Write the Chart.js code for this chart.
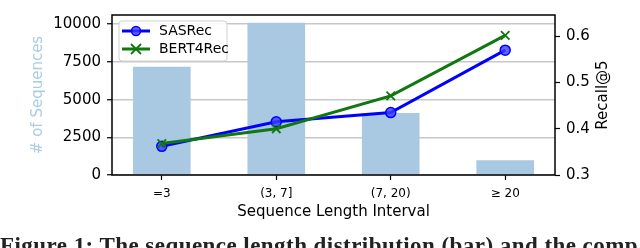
<!DOCTYPE html>
<html>
<head>
<meta charset="utf-8">
<script src="https://cdn.jsdelivr.net/npm/chart.js@4.4.0/dist/chart.umd.min.js"></script>
<style>
    html, body { margin: 0; padding: 0; background: #fff; }
    #wrap { position: relative; width: 640px; height: 248px; overflow: hidden; }
    #caption {
        position: absolute; left: 0; top: 233px;
        font: bold 23px "Liberation Serif", serif;
        letter-spacing: 0.45px;
        white-space: nowrap; color: #222;
    }
</style>
</head>
<body>
<div id="wrap">
    <canvas id="chart" width="640" height="248"></canvas>
    <div id="caption">Figure 1: The sequence length distribution (bar) and the comparison</div>
</div>
<script>
// data
const categories = ["=3", "(3, 7]", "(7, 20)", "\u2265 20"];
const seqCounts = [7160, 10080, 4090, 960];
const sasrec = [0.362, 0.415, 0.435, 0.570];
const bert4rec = [0.368, 0.400, 0.471, 0.602];
const countTicks = [0, 2500, 5000, 7500, 10000];
const recallTicks = [0.3, 0.4, 0.5, 0.6];

const FONT = "DejaVu Sans";
const BAR_COLOR = "rgb(169, 201, 226)";

// turns a series into {x, y} pairs so the linear x scale places them
function toPoints(values) {
    return values.map((v, i) => ({ x: i, y: v }));
}

// frame around the plot area, right axis title and the legend box
const extras = {
    id: "extras",
    afterDatasetsDraw(chart) {
        const ctx = chart.ctx;
        const a = chart.chartArea;
        ctx.save();

        // legend box
        let bx = a.left + 7, by = a.top + 6, bw = 108, bh = 40;
        ctx.fillStyle = "rgba(255,255,255,0.85)";
        ctx.strokeStyle = "#d0d0d0";
        ctx.lineWidth = 1;
        ctx.beginPath();
        ctx.roundRect(bx, by, bw, bh, 3);
        ctx.fill();
        ctx.stroke();

        const rows = [
            { label: "SASRec", color: "#0000ff", marker: "circle" },
            { label: "BERT4Rec", color: "#117711", marker: "cross" }
        ];
        rows.forEach((r, i) => {
            let y = by + 10 + i * 18;
            ctx.strokeStyle = r.color;
            ctx.lineWidth = 3;
            ctx.beginPath();
            ctx.moveTo(bx + 3, y);
            ctx.lineTo(bx + 31, y);
            ctx.stroke();
            let mx = bx + 17;
            if (r.marker == "circle") {
                ctx.fillStyle = "rgba(60,60,255,0.8)";
                ctx.lineWidth = 1.5;
                ctx.beginPath();
                ctx.arc(mx, y, 4.5, 0, Math.PI * 2);
                ctx.fill();
                ctx.stroke();
            } else {
                ctx.lineWidth = 1.8;
                ctx.beginPath();
                ctx.moveTo(mx - 5, y - 5); ctx.lineTo(mx + 5, y + 5);
                ctx.moveTo(mx - 5, y + 5); ctx.lineTo(mx + 5, y - 5);
                ctx.stroke();
            }
            ctx.fillStyle = "#000";
            ctx.font = "14px " + FONT;
            ctx.textBaseline = "middle";
            ctx.textAlign = "left";
            ctx.fillText(r.label, bx + 40, y);
        });

        // black frame
        ctx.strokeStyle = "#000";
        ctx.lineWidth = 1.5;
        ctx.strokeRect(a.left, a.top, a.right - a.left, a.bottom - a.top);

        // right axis title reads bottom to top
        ctx.translate(603, (a.top + a.bottom) / 2);
        ctx.rotate(-Math.PI / 2);
        ctx.fillStyle = "#000";
        ctx.font = "15px " + FONT;
        ctx.textAlign = "center";
        ctx.textBaseline = "middle";
        ctx.fillText("Recall@5", 0, 0);
        ctx.restore();
    }
};

new Chart(document.getElementById("chart"), {
    type: "bar",
    data: {
        datasets: [
            {
                type: "line",
                label: "BERT4Rec",
                data: toPoints(bert4rec),
                yAxisID: "y2",
                borderColor: "#117711",
                borderWidth: 3,
                pointStyle: "crossRot",
                pointRadius: 6,
                pointBorderWidth: 1.8,
                pointBorderColor: "#117711",
                order: 0
            },
            {
                type: "line",
                label: "SASRec",
                data: toPoints(sasrec),
                yAxisID: "y2",
                borderColor: "#0000ff",
                borderWidth: 3,
                pointStyle: "circle",
                pointRadius: 5,
                pointBorderWidth: 1.5,
                pointBackgroundColor: "rgba(60,60,255,0.8)",
                pointBorderColor: "#0000ff",
                order: 1
            },
            {
                type: "bar",
                label: "# of Sequences",
                data: toPoints(seqCounts),
                yAxisID: "y",
                backgroundColor: BAR_COLOR,
                barThickness: 57,
                order: 2
            }
        ]
    },
    options: {
        responsive: false,
        animation: false,
        layout: { padding: { top: 2, left: 0, right: 0, bottom: 0 } },
        plugins: {
            legend: { display: false },
            tooltip: { enabled: false }
        },
        scales: {
            x: {
                type: "linear",
                offset: false,
                min: -0.435,
                max: 3.435,
                afterBuildTicks: (s) => { s.ticks = categories.map((c, i) => ({ value: i })); },
                afterFit: (s) => { s.height = 73; },
                ticks: {
                    callback: (v) => categories[v],
                    color: "#000",
                    font: { family: FONT, size: 12 },
                    padding: 7,
                    maxRotation: 0
                },
                grid: { offset: false, drawOnChartArea: false, tickLength: 5, tickColor: "#000", tickWidth: 1.2 },
                border: { display: false },
                title: {
                    display: true,
                    text: "Sequence Length Interval",
                    color: "#000",
                    font: { family: FONT, size: 15 },
                    padding: { top: 0, bottom: 27 }
                }
            },
            y: {
                position: "left",
                min: 0,
                max: 10613,
                afterBuildTicks: (s) => { s.ticks = countTicks.map(v => ({ value: v })); },
                afterFit: (s) => { s.width = 112; },
                ticks: {
                    callback: (v) => String(v),
                    color: "#000",
                    font: { family: FONT, size: 15 },
                    padding: 6
                },
                grid: { color: "#c8c8c8", lineWidth: 1.5, tickLength: 5, tickColor: "#000", tickWidth: 1.2 },
                border: { display: false },
                title: {
                    display: true,
                    text: "# of Sequences",
                    color: "rgb(170, 205, 228)",
                    font: { family: FONT, size: 15 },
                    padding: { top: 29, bottom: 0 }
                }
            },
            y2: {
                position: "right",
                min: 0.3,
                max: 0.646,
                afterBuildTicks: (s) => { s.ticks = recallTicks.map(v => ({ value: v })); },
                afterFit: (s) => { s.width = 85; },
                ticks: {
                    callback: (v) => v.toFixed(1),
                    color: "#000",
                    font: { family: FONT, size: 15 },
                    padding: 6
                },
                grid: { drawOnChartArea: false, tickLength: 5, tickColor: "#000", tickWidth: 1.2 },
                border: { display: false }
            }
        }
    },
    plugins: [extras]
});
</script>
</body>
</html>
